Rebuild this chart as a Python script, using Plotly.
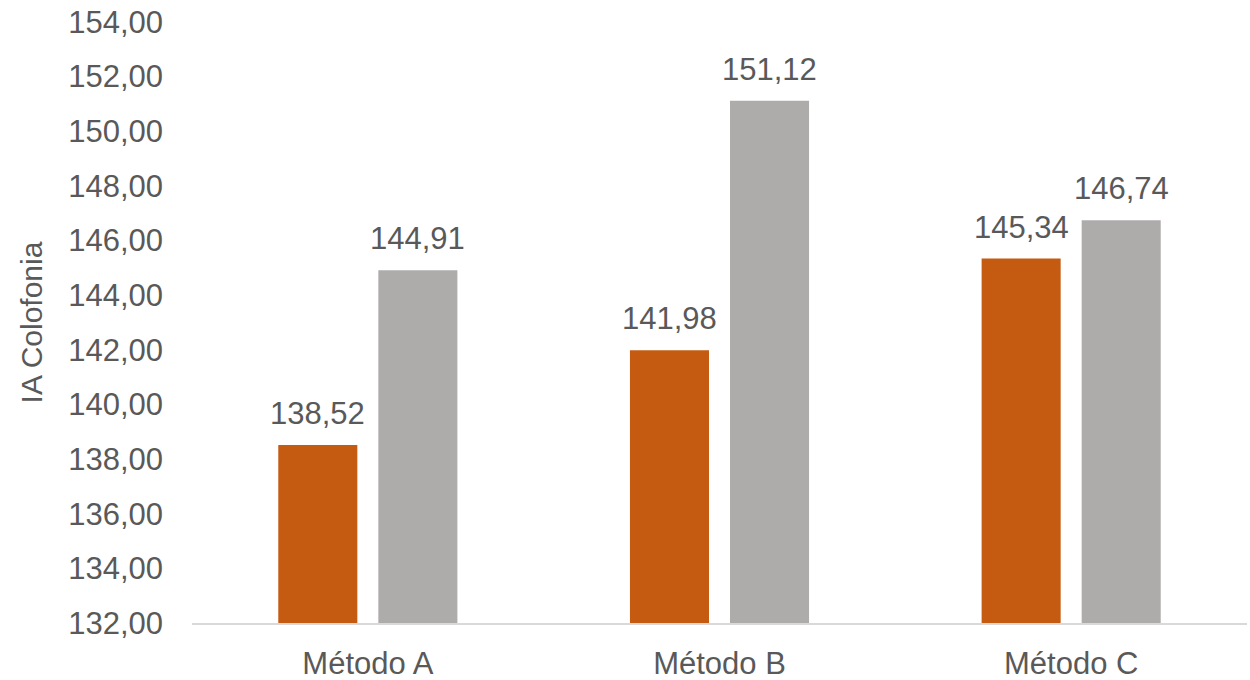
import plotly.graph_objects as go

categories = ["Método A", "Método B", "Método C"]
serie_1 = [138.52, 141.98, 145.34]
serie_2 = [144.91, 151.12, 146.74]
y_ticks = [132, 134, 136, 138, 140, 142, 144, 146, 148, 150, 152, 154]

FONT = "Liberation Sans, Arial, sans-serif"
TEXT_COLOR = "#595959"
SIZE = 31

fig = go.Figure()
fig.add_trace(go.Bar(x=categories, y=serie_1, marker_color="#C55A11", marker_line_width=0))
fig.add_trace(go.Bar(x=categories, y=serie_2, marker_color="#AEABAB", marker_line_width=0))

# value labels above each bar (two bars per group, offset left/right of the category centre)
for values, dx in ((serie_1, -50), (serie_2, 50)):
    for cat, v in zip(categories, values):
        fig.add_annotation(
            x=cat, y=v, xshift=dx, yshift=12, yanchor="bottom",
            text=f"{v:.2f}".replace(".", ","), showarrow=False,
            font=dict(size=SIZE, color=TEXT_COLOR, family=FONT),
        )

fig.update_layout(
    width=1250, height=680,
    margin=dict(l=192, r=3, t=22, b=57),
    paper_bgcolor="white", plot_bgcolor="white",
    separators=",.",
    barmode="group", bargap=0.431, bargroupgap=0.21,
    showlegend=False,
    font=dict(family=FONT, color=TEXT_COLOR, size=SIZE),
)
fig.update_yaxes(
    range=[132, 154], tickvals=y_ticks, tickformat=".2f",
    showgrid=False, zeroline=False, showline=False, automargin=False,
    tickfont=dict(size=SIZE, color=TEXT_COLOR, family=FONT),
    ticklabelstandoff=28,
    title=dict(text="IA Colofonia", font=dict(size=30, color=TEXT_COLOR, family=FONT), standoff=16),
)
fig.update_xaxes(
    showgrid=False, showline=True, linecolor="#D9D9D9", linewidth=2, automargin=False,
    tickfont=dict(size=SIZE, color=TEXT_COLOR, family=FONT),
    ticklabelstandoff=12,
)

fig.write_html("out.html")
